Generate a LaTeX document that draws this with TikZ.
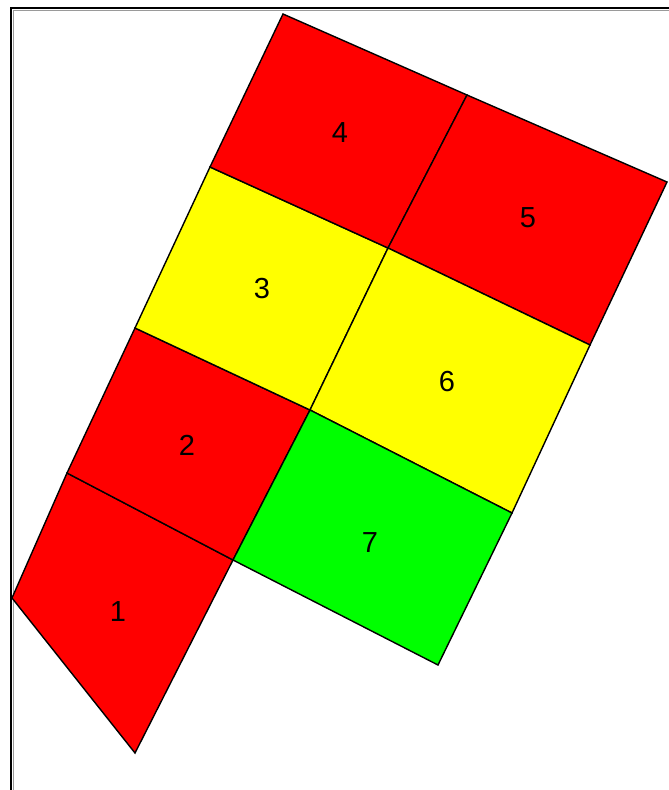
\documentclass[tikz,border=0pt]{standalone}
\usepackage{fontspec}
\setmainfont{Liberation Sans}
\usepackage{tikz}
\definecolor{PlotRed}{HTML}{FF0000}
\definecolor{PlotYellow}{HTML}{FFFF00}
\definecolor{PlotGreen}{HTML}{00FF00}
\definecolor{Frame}{HTML}{000000}
\definecolor{FrameShade}{HTML}{9A9A9A}
\begin{document}
\begin{tikzpicture}[
  x=1pt, y=-1pt,
  plot/.style={draw=black, line width=1.4pt, line join=miter},
  lbl/.style={font=\fontsize{29}{29}\selectfont, inner sep=0pt}
]
\useasboundingbox (0,0) rectangle (669,790);
% frame
\draw[Frame, line width=2.4pt] (11,790) -- (11,8) -- (669,8);
\draw[FrameShade, line width=1pt] (13.2,790) -- (13.2,10.2) -- (669,10.2);

% corners of the plots
\coordinate (a) at (283,14);
\coordinate (b) at (467,95);
\coordinate (c) at (667,182);
\coordinate (d) at (210,167);
\coordinate (e) at (388,248);
\coordinate (f) at (590,345);
\coordinate (g) at (135,328);
\coordinate (h) at (310,410);
\coordinate (i) at (512,513);
\coordinate (j) at (67,473);
\coordinate (k) at (233,560);
\coordinate (l) at (438,665);
\coordinate (m) at (12,598);
\coordinate (n) at (135,753);

\filldraw[plot, fill=PlotRed] (j) -- (k) -- (n) -- (m) -- cycle;
\filldraw[plot, fill=PlotRed] (g) -- (h) -- (k) -- (j) -- cycle;
\filldraw[plot, fill=PlotYellow] (d) -- (e) -- (h) -- (g) -- cycle;
\filldraw[plot, fill=PlotRed] (a) -- (b) -- (e) -- (d) -- cycle;
\filldraw[plot, fill=PlotRed] (b) -- (c) -- (f) -- (e) -- cycle;
\filldraw[plot, fill=PlotYellow] (e) -- (f) -- (i) -- (h) -- cycle;
\filldraw[plot, fill=PlotGreen] (h) -- (i) -- (l) -- (k) -- cycle;

\node[lbl] (p1) at (118,612) {1};
\node[lbl] (p2) at (187,445) {2};
\node[lbl] (p3) at (262,289) {3};
\node[lbl] (p4) at (340,133) {4};
\node[lbl] (p5) at (528,218) {5};
\node[lbl] (p6) at (447,382) {6};
\node[lbl] (p7) at (370,543) {7};
\end{tikzpicture}
\end{document}
